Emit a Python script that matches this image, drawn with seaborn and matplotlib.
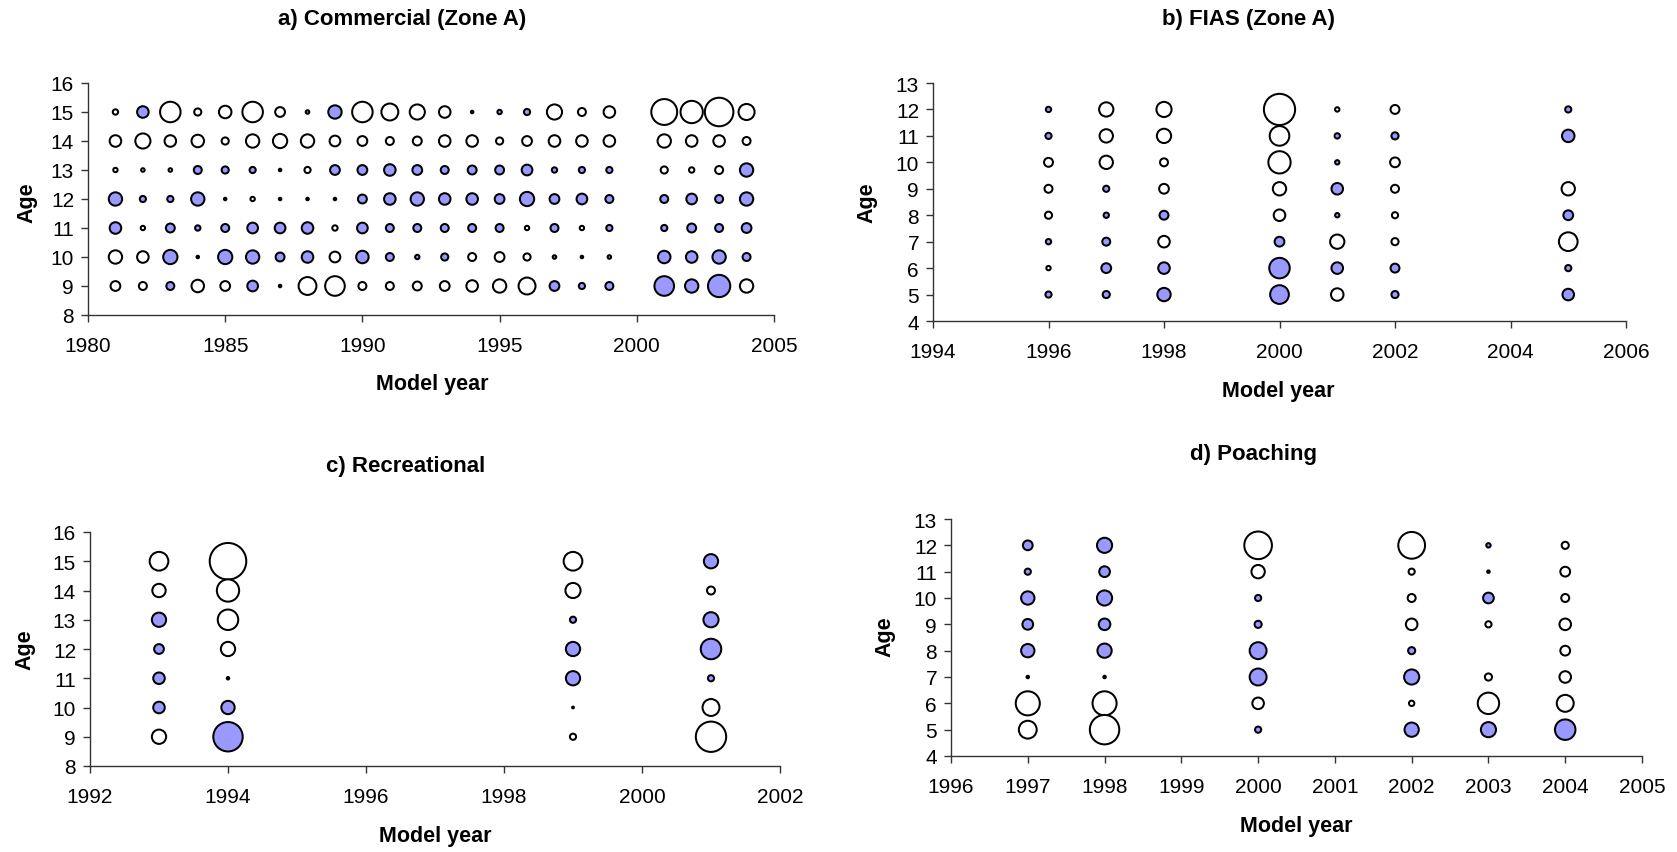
import matplotlib
matplotlib.use("Agg")
import matplotlib.pyplot as plt
import seaborn as sns
import pandas as pd
import numpy as np

# ---------------- data (signed residuals; filled = positive, open = negative) -------------
a_years = [1981, 1982, 1983, 1984, 1985, 1986, 1987, 1988, 1989, 1990, 1991, 1992,
           1993, 1994, 1995, 1996, 1997, 1998, 1999, 2001, 2002, 2003, 2004]
a_ages = [15, 14, 13, 12, 11, 10, 9]
a_resid = [
    [-0.09, 0.42, -1.32, -0.16, -0.49, -1.32, -0.30, 0.04, 0.56, -1.32, -0.90, -0.72,
     -0.42, 0.02, 0.06, 0.12, -0.72, -0.20, -0.42, -2.10, -1.56, -2.56, -0.81],
    [-0.42, -0.72, -0.42, -0.49, -0.16, -0.56, -0.64, -0.56, -0.36, -0.30, -0.20, -0.25,
     -0.42, -0.42, -0.16, -0.30, -0.42, -0.42, -0.42, -0.56, -0.42, -0.42, -0.20],
    [-0.06, -0.04, -0.04, 0.20, 0.16, 0.12, 0.02, -0.12, 0.30, 0.30, 0.42, 0.30,
     0.20, 0.25, 0.25, 0.36, 0.09, 0.12, 0.12, -0.16, -0.09, -0.20, 0.56],
    [0.56, 0.12, 0.12, 0.56, 0.02, -0.06, 0.02, 0.02, 0.02, 0.25, 0.42, 0.56,
     0.42, 0.42, 0.30, 0.64, 0.30, 0.36, 0.20, 0.20, 0.36, 0.20, 0.56],
    [0.42, -0.06, 0.25, 0.09, 0.20, 0.36, 0.36, 0.42, -0.09, 0.36, 0.20, 0.20,
     0.20, 0.20, 0.20, -0.06, 0.20, -0.06, 0.12, 0.12, 0.25, 0.20, 0.30],
    [-0.56, -0.42, 0.64, 0.02, 0.64, 0.56, 0.25, 0.42, -0.36, 0.49, 0.20, 0.06,
     0.16, -0.20, -0.30, -0.16, 0.04, 0.02, 0.04, 0.49, 0.42, 0.56, 0.20],
    [-0.30, -0.20, 0.20, -0.49, -0.30, 0.36, 0.02, -1.00, -1.21, -0.20, -0.20, -0.25,
     -0.30, -0.42, -0.56, -0.90, 0.30, 0.12, 0.20, 1.21, 0.56, 1.56, -0.56],
]

b_years = [1996, 1997, 1998, 2000, 2001, 2002, 2005]
b_ages = [12, 11, 10, 9, 8, 7, 6, 5]
b_resid = [
    [0.09, -0.64, -0.72, -3.06, -0.06, -0.25, 0.12],
    [0.12, -0.56, -0.64, -1.21, 0.09, 0.16, 0.49],
    [-0.25, -0.56, -0.20, -1.56, 0.06, -0.30, None],
    [-0.20, 0.12, -0.30, -0.56, 0.42, -0.20, -0.56],
    [-0.16, 0.09, 0.25, -0.42, 0.06, -0.12, 0.30],
    [0.09, 0.20, -0.42, 0.30, -0.64, -0.16, -1.10],
    [-0.06, 0.30, 0.42, 1.32, 0.42, 0.25, 0.12],
    [0.12, 0.16, 0.56, 1.10, -0.49, 0.16, 0.42],
]

c_years = [1993, 1994, 1999, 2001]
c_ages = [15, 14, 13, 12, 11, 10, 9]
c_resid = [
    [-1.10, -4.20, -1.10, 0.64],
    [-0.56, -1.56, -0.72, -0.20],
    [0.64, -1.32, 0.12, 0.72],
    [0.30, -0.64, 0.64, 1.32],
    [0.42, 0.02, 0.64, 0.12],
    [0.42, 0.56, -0.01, -0.90],
    [-0.64, 2.72, -0.12, -2.89],
]

d_years = [1997, 1998, 2000, 2002, 2003, 2004]
d_ages = [12, 11, 10, 9, 8, 7, 6, 5]
d_resid = [
    [0.30, 0.72, -2.40, -2.25, 0.06, -0.16],
    [0.12, 0.36, -0.56, -0.12, 0.02, -0.30],
    [0.56, 0.72, 0.12, -0.20, 0.36, -0.20],
    [0.36, 0.42, 0.16, -0.42, -0.12, -0.42],
    [0.56, 0.64, 0.90, 0.16, None, -0.30],
    [0.02, 0.02, 0.90, 0.72, -0.16, -0.42],
    [-1.82, -1.82, -0.42, -0.09, -1.44, -0.90],
    [-1.00, -2.72, 0.12, 0.64, 0.72, 1.32],
]

titles = ["a) Commercial (Zone A)", "b) FIAS (Zone A)", "c) Recreational", "d) Poaching"]
x_label = "Model year"
y_label = "Age"

# ---------------- style ----------------
sns.set_style("ticks")
plt.rcParams["font.family"] = ["Liberation Sans", "DejaVu Sans"]
plt.rcParams["text.color"] = "black"
plt.rcParams["axes.labelcolor"] = "black"
plt.rcParams["xtick.color"] = "black"
plt.rcParams["ytick.color"] = "black"
FILL = "#9999FF"
AXC = "#333333"
W, H = 1677, 853


def to_frame(years, ages, resid):
    rows = []
    for i, age in enumerate(ages):
        for j, yr in enumerate(years):
            v = resid[i][j]
            if v is None:
                continue
            rows.append({"year": yr, "age": age, "mag": abs(v),
                         "sign": "pos" if v > 0 else "neg"})
    return pd.DataFrame(rows)


fig = plt.figure(figsize=(W / 100, H / 100), dpi=100)

panels = [
    (a_years, a_ages, a_resid, (88, 84, 774, 316), (1980, 2005), np.arange(1980, 2006, 5),
     (8, 16), (402, 20), (432, 385), (27, 203)),
    (b_years, b_ages, b_resid, (933, 84, 1626, 322), (1994, 2006), np.arange(1994, 2007, 2),
     (4, 13), (1249, 20), (1278, 392), (867, 203)),
    (c_years, c_ages, c_resid, (90, 533, 780, 767), (1992, 2002), np.arange(1992, 2003, 2),
     (8, 16), (406, 467), (435, 837), (25, 650)),
    (d_years, d_ages, d_resid, (951, 520, 1642, 757), (1996, 2005), np.arange(1996, 2006, 1),
     (4, 13), (1253, 455), (1296, 827), (885, 637)),
]

VMAX = 5.0
SMAX = 165 * VMAX

for k, (yrs, ages, resid, box, xlim, xticks, ylim, tpos, xlpos, ylpos) in enumerate(panels):
    x0, y0, x1, y1 = box
    ax = fig.add_axes([x0 / W, 1 - y1 / H, (x1 - x0) / W, (y1 - y0) / H])
    df = to_frame(yrs, ages, resid)
    sns.scatterplot(data=df, x="year", y="age", size="mag", hue="sign",
                    palette={"pos": FILL, "neg": "white"},
                    sizes=(0, SMAX), size_norm=(0, VMAX),
                    edgecolor="black", linewidth=1.45, legend=False,
                    ax=ax, clip_on=False, zorder=3)
    ax.set_xlim(*xlim)
    ax.set_ylim(*ylim)
    ax.set_xticks(xticks)
    ax.set_yticks(np.arange(ylim[0], ylim[1] + 1, 1))
    for s in ["top", "right"]:
        ax.spines[s].set_visible(False)
    for s in ["left", "bottom"]:
        ax.spines[s].set_color(AXC)
        ax.spines[s].set_linewidth(1.0)
    ax.tick_params(axis="both", direction="out", length=5, width=1.0, color=AXC,
                   labelsize=15, labelcolor="black")
    ax.tick_params(axis="x", pad=10)
    ax.tick_params(axis="y", pad=5)
    ax.set_xlabel(x_label, fontsize=15.5, fontweight="bold", va="center", ha="center",
                  color="black")
    ax.set_ylabel(y_label, fontsize=15.5, fontweight="bold", va="center", ha="center",
                  color="black")
    ax.xaxis.set_label_coords(xlpos[0] / W, 1 - xlpos[1] / H, transform=fig.transFigure)
    ax.yaxis.set_label_coords(ylpos[0] / W, 1 - ylpos[1] / H, transform=fig.transFigure)
    fig.text(tpos[0] / W, 1 - tpos[1] / H, titles[k], fontsize=16, fontweight="bold",
             ha="center", va="center", color="black")

fig.savefig("out.png", dpi=100, facecolor="white")
